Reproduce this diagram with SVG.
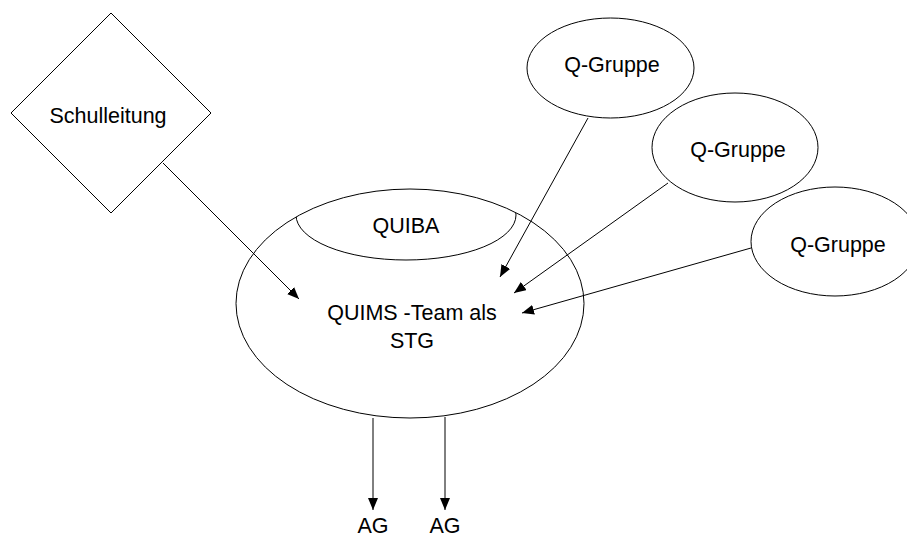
<svg xmlns="http://www.w3.org/2000/svg" width="907" height="539" viewBox="0 0 907 539">
<style>
.s{fill:#fff;stroke:#000;stroke-width:1}
.t{font-family:"Liberation Sans",Arial,sans-serif;font-size:21.5px;fill:#000;text-anchor:middle}
.c{fill:none;stroke:#000;stroke-width:1}
</style>
<defs>
<marker id="a" markerWidth="12" markerHeight="10" refX="12" refY="5" orient="auto" markerUnits="userSpaceOnUse">
<path d="M0,0 L12,5 L0,10 Z" fill="#000"/>
</marker>
<clipPath id="mc"><ellipse cx="410" cy="303.5" rx="174" ry="114.5"/></clipPath>
</defs>
<rect width="907" height="539" fill="#fff"/>
<g id="schulleitung">
<polygon class="s" points="111,13 211,113 111,213 11,113"/>
<text class="t" x="108" y="123">Schulleitung</text>
</g>
<g id="quims">
<ellipse class="s" cx="410" cy="303.5" rx="174" ry="114.5"/>
<text class="t" x="412" y="320">QUIMS -Team als</text>
<text class="t" x="412" y="348">STG</text>
</g>
<g id="quiba">
<ellipse class="c" cx="406" cy="215" rx="110" ry="45" clip-path="url(#mc)"/>
<text class="t" x="406" y="233">QUIBA</text>
</g>
<g id="qgruppe1">
<ellipse class="s" cx="610.5" cy="68" rx="83.5" ry="50"/>
<text class="t" x="612" y="72">Q-Gruppe</text>
</g>
<g id="qgruppe2">
<ellipse class="s" cx="735" cy="147.5" rx="83" ry="54.5"/>
<text class="t" x="738" y="157">Q-Gruppe</text>
</g>
<g id="qgruppe3">
<ellipse class="s" cx="835" cy="241.5" rx="84" ry="54.5"/>
<text class="t" x="838" y="252">Q-Gruppe</text>
</g>
<g id="ag1"><text class="t" x="373" y="533">AG</text></g>
<g id="ag2"><text class="t" x="445" y="533">AG</text></g>
<g id="connectors">
<line class="c" x1="163" y1="163" x2="299" y2="299" marker-end="url(#a)"/>
<line class="c" x1="588" y1="118" x2="500" y2="277" marker-end="url(#a)"/>
<line class="c" x1="668" y1="183" x2="514" y2="293" marker-end="url(#a)"/>
<line class="c" x1="751" y1="248" x2="522" y2="313" marker-end="url(#a)"/>
<line class="c" x1="373" y1="418" x2="373" y2="510" marker-end="url(#a)"/>
<line class="c" x1="445" y1="417" x2="445" y2="510" marker-end="url(#a)"/>
</g>
</svg>
